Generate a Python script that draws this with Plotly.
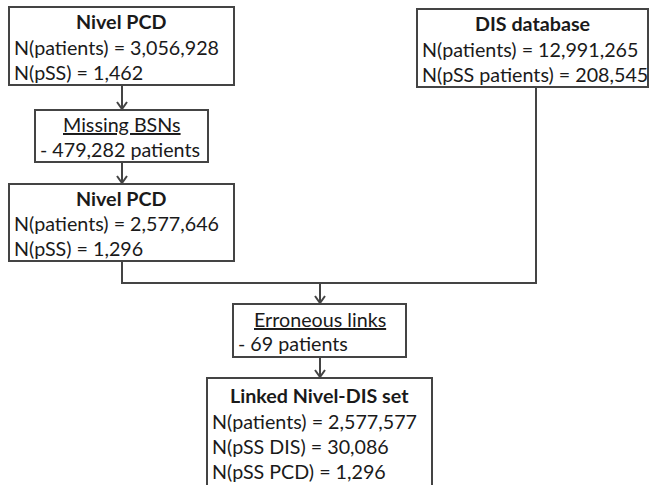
import plotly.graph_objects as go

# ---- content (text data) ----
nivel_title = "Nivel PCD"
nivel_lines = ["N(patients) = 3,056,928", "N(pSS) = 1,462"]
missing_title = "Missing BSNs"
missing_lines = ["- 479,282 patients"]
nivel2_title = "Nivel PCD"
nivel2_lines = ["N(patients) = 2,577,646", "N(pSS) = 1,296"]
dis_title = "DIS database"
dis_lines = ["N(patients) = 12,991,265", "N(pSS patients) = 208,545"]
err_title = "Erroneous links"
err_lines = ["- 69 patients"]
linked_title = "Linked Nivel-DIS set"
linked_lines = ["N(patients) = 2,577,577", "N(pSS DIS) = 30,086", "N(pSS PCD) = 1,296"]

# ---- layout geometry (pixel coordinates on a 649x485 canvas) ----
W, H = 649, 485
boxes = [
    dict(x0=9, y0=7, x1=234, y1=85, title=nivel_title, lines=nivel_lines, ul=False, ty=21.5, ly=47.5),
    dict(x0=35, y0=110, x1=208, y1=162, title=missing_title, lines=missing_lines, ul=True, ty=124, ly=149),
    dict(x0=9, y0=184, x1=234, y1=261, title=nivel2_title, lines=nivel2_lines, ul=False, ty=198, ly=223.5),
    dict(x0=417, y0=9, x1=648, y1=87, title=dis_title, lines=dis_lines, ul=False, ty=23, ly=49),
    dict(x0=233, y0=304, x1=406, y1=357, title=err_title, lines=err_lines, ul=True, ty=319, ly=343.5),
    dict(x0=207, y0=378, x1=432, y1=495, title=linked_title, lines=linked_lines, ul=False, ty=395, ly=421.5),
]
LINE_STEP = 25.2
FONT = "Lato"
FS = 19.7
TXT = "#1a1a1a"
LN = "#444444"

fig = go.Figure()
shapes = []
annotations = []

for b in boxes:
    shapes.append(dict(type="rect", x0=b["x0"], y0=b["y0"], x1=b["x1"], y1=b["y1"],
                       line=dict(color=LN, width=2), fillcolor="white", layer="below"))
    cx = (b["x0"] + b["x1"]) / 2
    title_txt = b["title"] if b["ul"] else "<b>" + b["title"] + "</b>"
    fnt = dict(family=FONT, size=FS, color=TXT)
    if b["ul"]:
        fnt["lineposition"] = "under"
    annotations.append(dict(x=cx, y=b["ty"], text=title_txt, showarrow=False,
                            xanchor="center", yanchor="middle", font=fnt))
    for i, t in enumerate(b["lines"]):
        annotations.append(dict(x=b["x0"] + 3, y=b["ly"] + i * LINE_STEP, text=t, showarrow=False,
                                xanchor="left", yanchor="middle",
                                font=dict(family=FONT, size=FS, color=TXT)))

def vline_arrow(x, y0, y1):
    shapes.append(dict(type="line", x0=x, y0=y0, x1=x, y1=y1, line=dict(color=LN, width=2)))
    shapes.append(dict(type="path", path=f"M {x-5},{y1-8} L {x},{y1-1} L {x+5},{y1-8}",
                       line=dict(color=LN, width=2)))

vline_arrow(122, 85, 110)
vline_arrow(122, 162, 184)
shapes.append(dict(type="path", path="M 122,261 L 122,283 L 536,283 L 536,87",
                   line=dict(color=LN, width=2)))
vline_arrow(320, 283, 304)
vline_arrow(320, 357, 378)

fig.update_layout(
    width=W, height=H,
    margin=dict(l=0, r=0, t=0, b=0),
    paper_bgcolor="white", plot_bgcolor="white",
    xaxis=dict(range=[0, W], visible=False, fixedrange=True),
    yaxis=dict(range=[H, 0], visible=False, fixedrange=True),
    shapes=shapes, annotations=annotations, showlegend=False,
)
fig.write_html("out.html", config={"displayModeBar": False},
               post_script="document.body.style.margin='0';document.body.style.overflow='hidden';")
